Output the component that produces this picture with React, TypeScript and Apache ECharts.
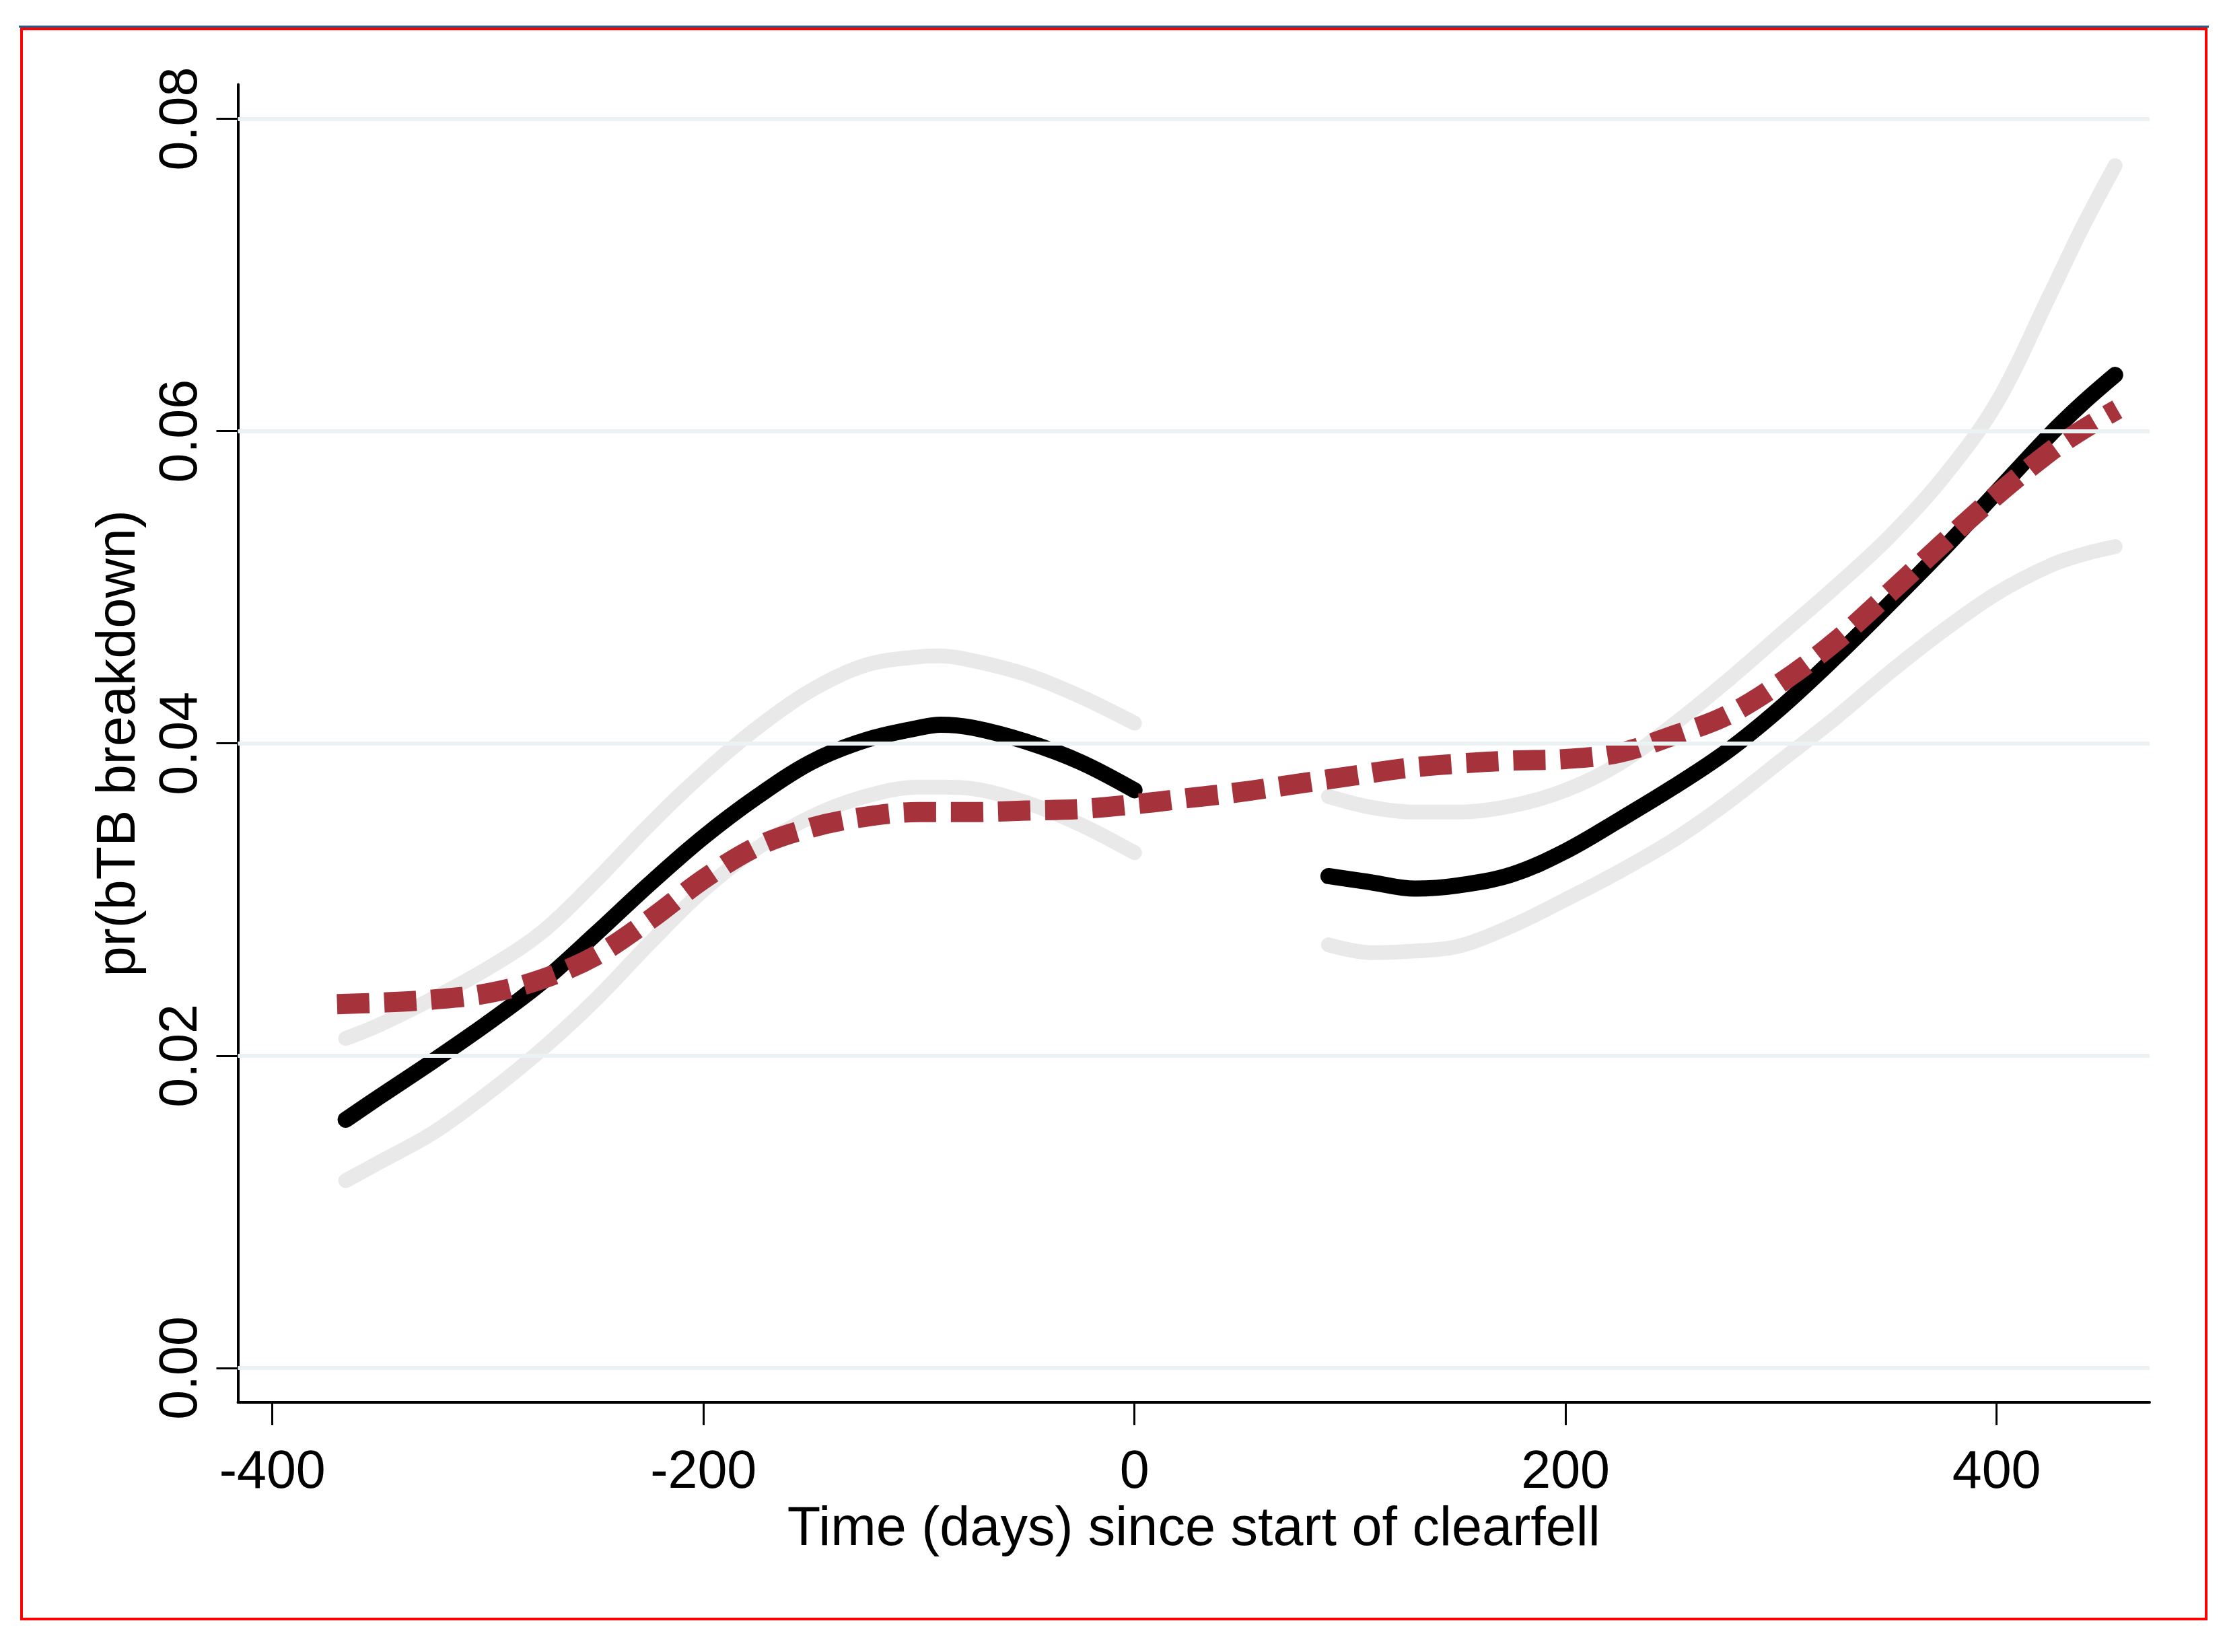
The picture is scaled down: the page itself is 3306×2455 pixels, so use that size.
import React, { useEffect, useRef } from "react";
import * as echarts from "echarts";

const xTicks = [-400, -200, 0, 200, 400];
const yTicks = [0, 0.02, 0.04, 0.06, 0.08];

// pre-clearfell segment
const xA = [-366, -350, -325, -300, -275, -250, -225, -200, -175, -150, -125, -100, -90, -75, -50, -25, 0];
const blackA = [0.0159, 0.0174, 0.0197, 0.0221, 0.0247, 0.0278, 0.0310, 0.0340, 0.0366, 0.0388, 0.0402, 0.0410, 0.0412, 0.0410, 0.0401, 0.0388, 0.0370];
const upperA = [0.0211, 0.0220, 0.0237, 0.0256, 0.0279, 0.0312, 0.0348, 0.0381, 0.0410, 0.0434, 0.0450, 0.04555, 0.0456, 0.0453, 0.0444, 0.0430, 0.0413];
const lowerA = [0.0120, 0.0132, 0.0151, 0.0176, 0.0204, 0.0236, 0.0272, 0.0306, 0.0333, 0.0353, 0.0366, 0.0372, 0.0372, 0.0371, 0.0362, 0.0348, 0.0330];

// post-clearfell segment
const xB = [90, 110, 130, 150, 175, 200, 225, 250, 275, 300, 325, 350, 375, 400, 425, 440, 455];
const blackB = [0.0315, 0.0311, 0.0307, 0.0309, 0.0316, 0.0331, 0.0351, 0.0372, 0.0395, 0.0423, 0.0455, 0.0489, 0.0524, 0.0561, 0.0598, 0.0618, 0.0636];
const upperB = [0.0366, 0.0359, 0.0356, 0.0356, 0.0360, 0.0370, 0.0387, 0.0412, 0.0440, 0.0470, 0.0500, 0.0532, 0.0570, 0.0618, 0.0688, 0.0731, 0.0770];
const lowerB = [0.0271, 0.0266, 0.0267, 0.0270, 0.0283, 0.0300, 0.0318, 0.0338, 0.0362, 0.0389, 0.0416, 0.0445, 0.0472, 0.0496, 0.0514, 0.0521, 0.0526];

// continuous (dashed) fit
const xRed = [-370, -350, -325, -300, -275, -250, -225, -200, -175, -150, -125, -100, -75, -50, -25, 0, 25, 50, 75, 100, 125, 150, 175, 200, 225, 250, 275, 300, 325, 350, 375, 400, 425, 440, 456];
const red = [0.0233, 0.0234, 0.0236, 0.0240, 0.0249, 0.0264, 0.0287, 0.0313, 0.0334, 0.0346, 0.0353, 0.0356, 0.0356, 0.0357, 0.0358, 0.0361, 0.0365, 0.0369, 0.0374, 0.0379, 0.0384, 0.0387, 0.0389, 0.0390, 0.0394, 0.0405, 0.0418, 0.0439, 0.0465, 0.0496, 0.0528, 0.0559, 0.0587, 0.0601, 0.0614];

const zip = (xs: number[], ys: number[]) => xs.map((x, i) => [x, ys[i]]);

const FONT = "'Liberation Sans', Arial, sans-serif";
const GRAY = "#e9e9e9";
const RED = "#a6333b";

function lineSeries(data: number[][], color: string, width: number, extra: any = {}) {
  return {
    type: "line",
    data,
    showSymbol: false,
    symbol: "none",
    smooth: 0.35,
    silent: true,
    lineStyle: { color, width, cap: "round", join: "round", ...extra },
  };
}

export default function App() {
  const ref = useRef<HTMLDivElement>(null);
  useEffect(() => {
    if (!ref.current) return;
    const chart = echarts.init(ref.current, undefined, { renderer: "svg" });
    chart.setOption({
      animation: false,
      backgroundColor: "#ffffff",
      grid: { left: 353.5, right: 112, top: 125.5, bottom: 371, containLabel: false },
      xAxis: {
        type: "value",
        min: -416,
        max: 471,
        name: "Time (days) since start of clearfell",
        nameLocation: "middle",
        nameGap: 140,
        nameTextStyle: { fontFamily: FONT, fontSize: 81, color: "#000" },
        axisLine: { show: true, onZero: false, lineStyle: { color: "#000", width: 4 } },
        axisTick: { show: true, customValues: xTicks, length: 34, lineStyle: { color: "#000", width: 3 } },
        axisLabel: {
          show: true,
          customValues: xTicks,
          margin: 60,
          fontFamily: FONT,
          fontSize: 79,
          color: "#000",
          formatter: (v: number) => String(v),
        },
        splitLine: { show: false },
      },
      yAxis: {
        type: "value",
        min: -0.0022,
        max: 0.0822,
        name: "pr(bTB breakdown)",
        nameLocation: "middle",
        nameGap: 141,
        nameTextStyle: { fontFamily: FONT, fontSize: 81, color: "#000" },
        axisLine: { show: true, onZero: false, lineStyle: { color: "#000", width: 4 } },
        axisTick: { show: true, customValues: yTicks, length: 32, lineStyle: { color: "#000", width: 3 } },
        axisLabel: {
          show: true,
          customValues: yTicks,
          rotate: 90,
          margin: 50,
          fontFamily: FONT,
          fontSize: 79,
          color: "#000",
          formatter: (v: number) => v.toFixed(2),
        },
        splitLine: { show: false },
      },
      graphic: [
        {
          type: "rect",
          silent: true,
          shape: { x: 32, y: 43, width: 3246, height: 2363 },
          style: { fill: "none", stroke: "#ff0000", lineWidth: 4 },
        },
        {
          type: "line",
          silent: true,
          shape: { x1: 28, y1: 39.5, x2: 3282, y2: 39.5 },
          style: { stroke: "#1f5f8f", lineWidth: 3 },
        },
      ],
      series: [
        {
          type: "line",
          data: [],
          silent: true,
          markLine: {
            silent: true,
            symbol: ["none", "none"],
            label: { show: false },
            lineStyle: { color: "#eaf2f3", width: 6, type: "solid" },
            data: yTicks.map((v) => ({ yAxis: v })),
          },
        },
        lineSeries(zip(xA, upperA), GRAY, 22),
        lineSeries(zip(xA, lowerA), GRAY, 22),
        lineSeries(zip(xB, upperB), GRAY, 22),
        lineSeries(zip(xB, lowerB), GRAY, 22),
        lineSeries(zip(xA, blackA), "#000000", 24),
        lineSeries(zip(xB, blackB), "#000000", 24),
        lineSeries(zip(xRed, red), RED, 30, { type: [48, 22], cap: "butt" }),
      ],
    });
    return () => chart.dispose();
  }, []);
  return (
    <div
      ref={ref}
      style={{ position: "fixed", left: 0, top: 0, width: "3306px", height: "2455px", background: "#fff" }}
    />
  );
}
